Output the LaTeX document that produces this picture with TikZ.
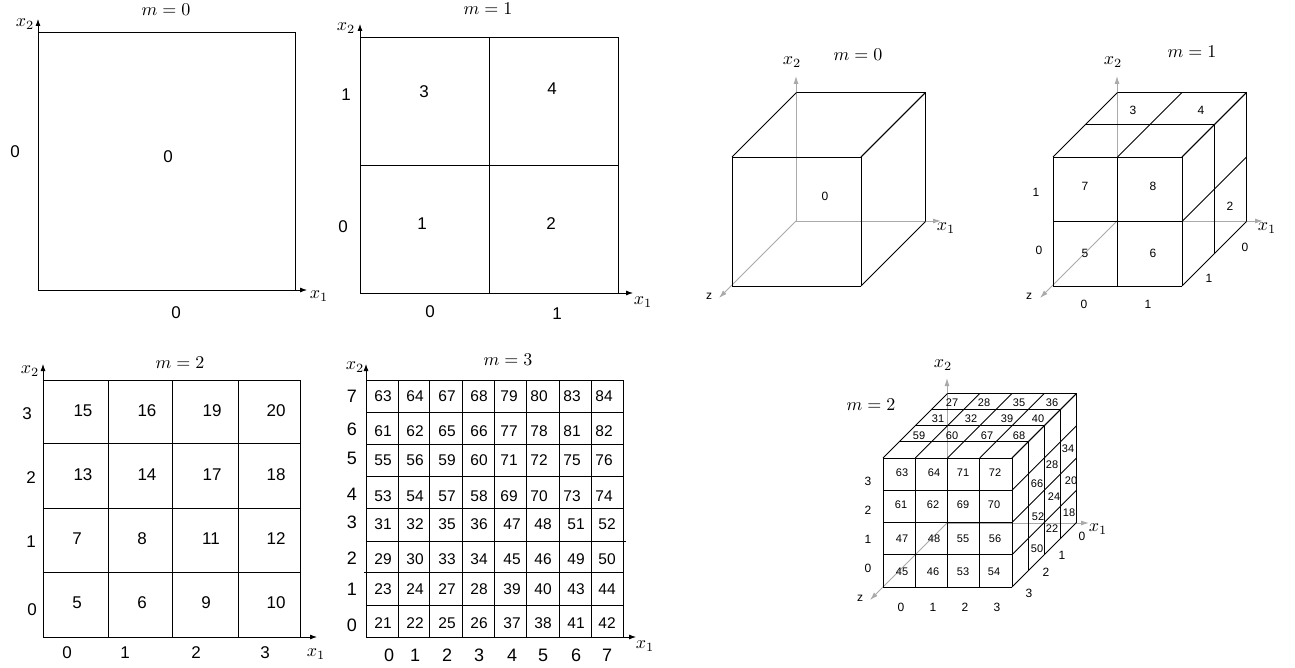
\documentclass[tikz,border=0pt]{standalone}
\usepackage{amsmath}
\usepackage{fontspec}
\setmainfont{Liberation Sans}
\usetikzlibrary{arrows.meta}
\definecolor{axisgray}{RGB}{170,170,170}
\tikzset{
  edge/.style={line width=.8pt,black},
  axisblack/.style={line width=.8pt,black,-{Latex[length=7pt,width=5pt]}},
  axisgrey/.style={line width=.9pt,axisgray,-{Latex[length=8pt,width=5pt]}},
  lab/.style={inner sep=0pt,font=\fontsize{17}{17}\selectfont},
  labl/.style={inner sep=0pt,font=\fontsize{18}{18}\selectfont},
  labm/.style={inner sep=0pt,font=\fontsize{15.5}{16}\selectfont},
  labs/.style={inner sep=0pt,font=\fontsize{11}{11}\selectfont},
  labc/.style={inner sep=0pt,font=\fontsize{12}{12}\selectfont},
  math/.style={inner sep=0pt,scale=1.8},
}
% front top left corner, side of the front face, cells per side
\newcommand{\cubegrid}[4]{
  \pgfmathsetmacro{\cs}{#3/#4}
  \pgfmathsetmacro{\ds}{#3/(2*#4)}
  \foreach \i in {0,...,#4}{
    \draw[edge] (#1+\i*\cs,#2)--(#1+\i*\cs,#2+#3);
    \draw[edge] (#1,#2+\i*\cs)--(#1+#3,#2+\i*\cs);
    \draw[edge] (#1+\i*\cs,#2)--++(#3/2,-#3/2);
    \draw[edge] (#1+#3,#2+\i*\cs)--++(#3/2,-#3/2);
    \draw[edge] (#1+\i*\ds,#2-\i*\ds)--++(#3,0);
    \draw[edge] (#1+#3+\i*\ds,#2-\i*\ds)--++(0,#3);
  }
}

\begin{document}
\begin{tikzpicture}[x=1pt,y=-1pt,>=Latex]
\useasboundingbox (0,0) rectangle (1295,668);

% m=0, plane
\coordinate (a0) at (38,290); \coordinate (ax) at (307,290); \coordinate (ay) at (38,19);
\draw[edge] (38,32) rectangle (295,290);
\draw[axisblack] (a0)--(ax);
\draw[axisblack] (a0)--(ay);
\node[math] (amx) at (25,24) {$x_2$};
\node[math] (amy) at (319,296) {$x_1$};
\node[math] (am) at (166,10) {$m=0$};
\node[lab] (aleft) at (15,152) {0};
\node[lab] (acell) at (168,157) {0};
\node[lab] (abot) at (176,313) {0};

% m=1, plane
\coordinate (b0) at (360,293); \coordinate (bx) at (633,293); \coordinate (by) at (360,24);
\draw[edge] (360,37) rectangle (618,293);
\draw[edge] (489,37)--(489,293);
\draw[edge] (360,165)--(618,165);
\draw[axisblack] (b0)--(bx);
\draw[axisblack] (b0)--(by);
\node[math] (bmx) at (346,28) {$x_2$};
\node[math] (bmy) at (643,302) {$x_1$};
\node[math] (bm) at (488,9) {$m=1$};
\foreach \px/\py/\t in {424/92/3,552/89/4,422/224/1,551/224/2}
  \node[lab] (b\t) at (\px,\py) {\t};
\foreach \px/\py/\t/\k in {346/95/1/a,343/227/0/b,430/312/0/c,557/314/1/d}
  \node[lab] (bl\k) at (\px,\py) {\t};

% m=2, plane
\coordinate (c0) at (43,637); \coordinate (cx) at (317,637); \coordinate (cy) at (43,364);
\draw[edge] (43,380) rectangle (300,637);
\foreach \px in {108,172,238} \draw[edge] (\px,380)--(\px,637);
\foreach \py in {443,508,572} \draw[edge] (43,\py)--(300,\py);
\draw[axisblack] (c0)--(cx);
\draw[axisblack] (c0)--(cy);
\node[math] (cmx) at (30,371) {$x_2$};
\node[math] (cmy) at (316,654) {$x_1$};
\node[math] (cm) at (180,363) {$m=2$};
\foreach \px/\py/\t in {83/411/15,147/411/16,212/411/19,276/411/20,
  83/475/13,147/475/14,212/475/17,276/475/18,
  77/539/7,142/539/8,211/539/11,276/539/12,
  77/603/5,142/603/6,206/603/9,276/603/10}
  \node[lab] (c\t) at (\px,\py) {\t};
\foreach \px/\py/\t/\k in {27/414/3/a,31/478/2/b,31/542/1/c,32/610/0/d,
  67/653/0/e,125/653/1/f,196/653/2/g,265/653/3/h}
  \node[lab] (cl\k) at (\px,\py) {\t};

% m=3, plane
\coordinate (d0) at (366,637); \coordinate (dx) at (636,637); \coordinate (dy) at (366,364);
\draw[edge] (366,380) rectangle (623,637);
\foreach \px in {398,429,462,494,526,559,591} \draw[edge] (\px,380)--(\px,637);
\foreach \py in {412,444,476,508,605} \draw[edge] (366,\py)--(623,\py);
\draw[edge] (366,541)--(626,541);
\draw[edge] (364,572)--(623,572);
\draw[axisblack] (d0)--(dx);
\draw[axisblack] (d0)--(dy);
\node[math] (dmx) at (355,367) {$x_2$};
\node[math] (dmy) at (645,646) {$x_1$};
\node[math] (dm) at (508,360) {$m=3$};
\foreach \py/\ta/\tb/\tc/\td/\te/\tf/\tg/\th in {
  396/63/64/67/68/79/80/83/84,431/61/62/65/66/77/78/81/82,
  460/55/56/59/60/71/72/75/76,496/53/54/57/58/69/70/73/74}{
  \node[labm] (d\ta) at (383,\py) {\ta};
  \node[labm] (d\tb) at (415,\py) {\tb};
  \node[labm] (d\tc) at (447,\py) {\tc};
  \node[labm] (d\td) at (479,\py) {\td};
  \node[labm] (d\te) at (509,\py) {\te};
  \node[labm] (d\tf) at (539,\py) {\tf};
  \node[labm] (d\tg) at (572,\py) {\tg};
  \node[labm] (d\th) at (604,\py) {\th};
}
\foreach \py/\ta/\tb/\tc/\td/\te/\tf/\tg/\th in {
  524/31/32/35/36/47/48/51/52,559/29/30/33/34/45/46/49/50,
  589/23/24/27/28/39/40/43/44,623/21/22/25/26/37/38/41/42}{
  \node[labm] (d\ta) at (383,\py) {\ta};
  \node[labm] (d\tb) at (415,\py) {\tb};
  \node[labm] (d\tc) at (447,\py) {\tc};
  \node[labm] (d\td) at (479,\py) {\td};
  \node[labm] (d\te) at (512,\py) {\te};
  \node[labm] (d\tf) at (543,\py) {\tf};
  \node[labm] (d\tg) at (576,\py) {\tg};
  \node[labm] (d\th) at (607,\py) {\th};
}
\foreach \py/\t in {396/7,429/6,458/5,494/4,522/3,558/2,589/1,625/0}
  \node[labl] (dl\t) at (352,\py) {\t};
\foreach \px/\t in {389/0,415/1,447/2,479/3,512/4,543/5,576/6,607/7}
  \node[labl] (db\t) at (\px,655) {\t};

% m=0, cube
\coordinate (e0) at (796,221); \coordinate (ex) at (941,221);
\coordinate (ey) at (796,76); \coordinate (ez) at (719,298);
\draw[axisgrey] (e0)--(ex);
\draw[axisgrey] (e0)--(ey);
\draw[axisgrey] (e0)--(ez);
\cubegrid{732}{157}{129}{1}
\node[math] (emx) at (792,62) {$x_2$};
\node[math] (emy) at (946,228) {$x_1$};
\node[math] (em) at (858,55) {$m=0$};
\node[labc] (ez0) at (709,296) {z};
\node[labc] (ecell) at (825,196) {0};

% m=1, cube
\coordinate (f0) at (1117,221); \coordinate (fx) at (1263,221);
\coordinate (fy) at (1117,76); \coordinate (fz) at (1040,298);
\draw[axisgrey] (f0)--(fx);
\draw[axisgrey] (f0)--(fy);
\draw[axisgrey] (f0)--(fz);
\cubegrid{1053}{157}{129}{2}
\node[math] (fmx) at (1113,62) {$x_2$};
\node[math] (fmy) at (1267,228) {$x_1$};
\node[math] (fm) at (1192,52) {$m=1$};
\node[labc] (fz0) at (1029,296) {z};
\foreach \px/\py/\t in {1133/110/3,1201/110/4,1085/186/7,1153/186/8,1085/253/5,1153/253/6,1230/206/2}
  \node[labc] (f\t) at (\px,\py) {\t};
\foreach \px/\py/\t/\k in {1036/192/1/a,1039/250/0/b,1084/304/0/c,1148/304/1/d,1245/247/0/e,1209/278/1/f}
  \node[labc] (fl\k) at (\px,\py) {\t};

% m=2, cube
\coordinate (g0) at (947,523); \coordinate (gx) at (1089,523);
\coordinate (gy) at (947,378); \coordinate (gz) at (870,600);
\draw[axisgrey] (g0)--(gx);
\draw[axisgrey] (g0)--(gy);
\draw[axisgrey] (g0)--(gz);
\cubegrid{883}{458}{129}{4}
\node[math] (gmx) at (943,365) {$x_2$};
\node[math] (gmy) at (1098,529) {$x_1$};
\node[math] (gm) at (871,405) {$m=2$};
\node[labc] (gz0) at (860,598) {z};
\foreach \px/\py/\t in {952/403/27,984/403/28,1019/403/35,1052/403/36,
  938/419/31,971/419/32,1007/419/39,1038/419/40,
  919/436/59,952/436/60,987/436/67,1019/436/68,
  902/473/63,934/473/64,963/473/71,995/473/72,
  901/505/61,933/505/62,963/505/69,994/505/70,
  902/539/47,934/539/48,963/539/55,995/539/56,
  902/572/45,933/572/46,963/572/53,994/572/54}
  \node[labs] (g\t) at (\px,\py) {\t};
% numbers on the right face
\foreach \px/\py/\t in {1068/449/34,1052/465/28,1071/481/20,1037/484/66,1054/497/24,
  1069/513/18,1038/517/52,1052/529/22,1037/549/50}
  \node[labs] (gs\t) at (\px,\py) {\t};
\foreach \py/\t in {481/3,510/2,539/1,568/0}
  \node[labc] (gl\t) at (868,\py) {\t};
\foreach \px/\t in {901/0,933/1,965/2,997/3}
  \node[labc] (gb\t) at (\px,607) {\t};
\foreach \px/\py/\t in {1082/536/0,1062/555/1,1046/572/2,1029/593/3}
  \node[labc] (gd\t) at (\px,\py) {\t};
\end{tikzpicture}
\end{document}
